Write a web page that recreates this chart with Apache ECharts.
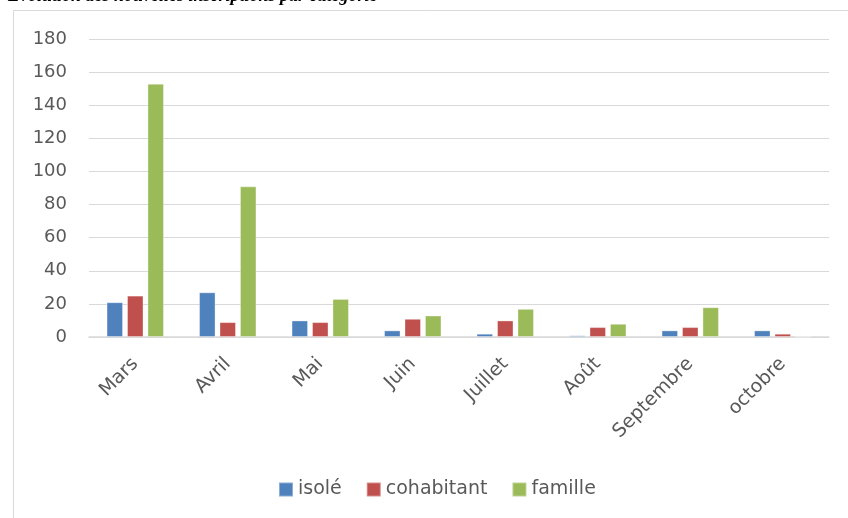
<!DOCTYPE html>
<html>
<head>
<meta charset="utf-8">
<script src="https://cdn.jsdelivr.net/npm/echarts@6/dist/echarts.min.js"></script>
<style>html,body{margin:0;padding:0;background:#fff;}#c{width:848px;height:518px;}</style>
</head>
<body>
<div id="c"></div>
<script>
const categories = ['Mars', 'Avril', 'Mai', 'Juin', 'Juillet', 'Août', 'Septembre', 'octobre'];
const seriesNames = ['isolé', 'cohabitant', 'famille'];
const isole = [21, 27, 10, 4, 2, 1, 4, 4];
const cohabitant = [25, 9, 9, 11, 10, 6, 6, 2];
const famille = [153, 91, 23, 13, 17, 8, 18, 0];
const yTicks = [0, 20, 40, 60, 80, 100, 120, 140, 160, 180];
const titleText = 'Évolution des nouvelles inscriptions par catégorie';
const colors = ['#4F81BD', '#C0504D', '#9BBB59'];

const font = 'DejaVu Sans';
const chart = echarts.init(document.getElementById('c'), null, {renderer: 'canvas'});
const values = [isole, cohabitant, famille];
chart.setOption({
  animation: false,
  color: colors,
  graphic: [
    {type: 'rect', shape: {x: 13.5, y: 10.5, width: 900, height: 600}, style: {fill: 'none', stroke: '#D9D9D9', lineWidth: 1}, z: -1},
    {type: 'text', left: 8, top: -12.5, style: {text: titleText, font: 'italic bold 18px "Liberation Serif"', fill: '#000'}}
  ],
  grid: {left: 89, right: 19, top: 39, bottom: 181, containLabel: false},
  legend: {
    data: seriesNames,
    left: 278, top: 480, padding: 0,
    itemWidth: 14, itemHeight: 14, itemGap: 24,
    icon: 'rect',
    textStyle: {fontFamily: font, fontSize: 19, color: '#595959'}
  },
  xAxis: {
    type: 'category', data: categories,
    axisLine: {lineStyle: {color: '#D9D9D9', width: 1.5}},
    axisTick: {show: false},
    axisLabel: {rotate: 45, margin: 24, fontFamily: font, fontSize: 19, color: '#595959', interval: 0}
  },
  yAxis: {
    type: 'value', min: yTicks[0], max: yTicks[yTicks.length - 1], interval: yTicks[1] - yTicks[0],
    axisLine: {show: false}, axisTick: {show: false},
    splitLine: {lineStyle: {color: '#D9D9D9', width: 1}},
    axisLabel: {margin: 22, fontFamily: font, fontSize: 18, color: '#595959'}
  },
  series: seriesNames.map((n, i) => ({
    name: n, type: 'bar', data: values[i],
    barWidth: 16.5, barGap: '24%',
    itemStyle: {borderColor: 'rgba(255,255,255,0.35)', borderWidth: 1}
  }))
});
</script>
</body>
</html>
